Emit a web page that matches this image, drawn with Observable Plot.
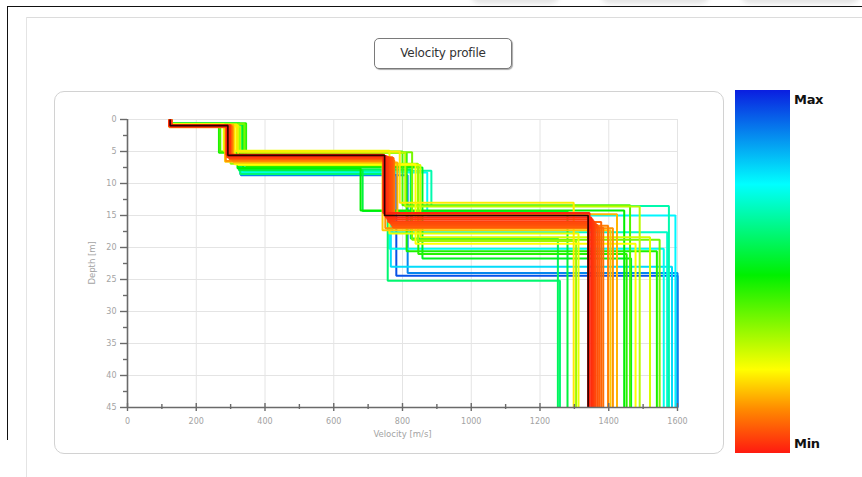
<!DOCTYPE html>
<html>
<head>
<meta charset="utf-8">
<script src="https://cdn.jsdelivr.net/npm/d3@7"></script>
<script src="https://cdn.jsdelivr.net/npm/@observablehq/plot@0.6"></script>
<style>
  body { margin: 0; background: #fff; font-family: "DejaVu Sans", sans-serif; }
  #page { position: relative; width: 862px; height: 477px; overflow: hidden; background: #fff; }
  .frame-top { position: absolute; left: 7px; top: 6px; width: 860px; height: 0; border-top: 1.5px solid #111; }
  .frame-left { position: absolute; left: 7px; top: 6px; width: 0; height: 434px; border-left: 1.5px solid #111; }
  .inner-top { position: absolute; left: 26px; top: 17px; width: 840px; height: 0; border-top: 1px solid #dcdcdc; }
  .inner-left { position: absolute; left: 26px; top: 17px; width: 0; height: 460px; border-left: 1px solid #e4e4e4; }
  .shade { position: absolute; top: -16px; height: 20px; background: #e6e6e6; border-radius: 14px; filter: blur(2px); }
  #title { position: absolute; left: 374px; top: 38px; width: 136px; height: 29px; border: 1.5px solid #7a7a7a;
           border-radius: 5px; box-shadow: 1px 1px 1px #aaa; font-size: 12px; color: #333; line-height: 29px;
           text-align: center; background: #fff; letter-spacing: -0.2px; }
  #panel { position: absolute; left: 54px; top: 91px; width: 668px; height: 361px; border: 1px solid #d2d2d2; border-radius: 10px; }
  #chart { position: absolute; left: 54px; top: 92px; }
  #bar { position: absolute; left: 735px; top: 90px; width: 55px; height: 363px; }
  .bar-label { position: absolute; left: 794px; font-weight: bold; font-size: 13px; color: #111; letter-spacing: -0.3px; }
</style>
</head>
<body>
<div id="page">
  <div class="shade" style="left:470px;width:90px"></div>
  <div class="shade" style="left:600px;width:110px"></div>
  <div class="shade" style="left:740px;width:120px"></div>
  <div class="frame-top"></div>
  <div class="frame-left"></div>
  <div class="inner-top"></div>
  <div class="inner-left"></div>
  <div id="title">Velocity profile</div>
  <div id="panel"></div>
  <div id="chart"></div>
  <div id="bar"></div>
  <div class="bar-label" style="top:92px">Max</div>
  <div class="bar-label" style="top:436px">Min</div>
</div>
<script>
// Layered velocity models: each profile is a 4-layer step model.
// misfit: 0 = best (min), 1 = worst (max); v = layer velocity [m/s], d = layer bottom depth [m]
const misfit = [0.00, 0.01, 0.02, 0.03, 0.04, 0.05, 0.06, 0.07, 0.08, 0.09,
                0.11, 0.13, 0.16, 0.18, 0.21, 0.23, 0.25, 0.27, 0.30, 0.33,
                0.37, 0.41, 0.45, 0.49, 0.52, 0.58, 0.55, 0.66, 0.69, 0.72,
                0.75, 0.78, 0.60, 0.88, 0.94, 0.46];
const v1 = [124, 122, 127, 125, 121, 128, 123, 126, 124, 129,
            125, 122, 127, 124, 126, 123, 128, 125, 121, 126,
            124, 127, 123, 125, 128, 124, 126, 122, 125, 127,
            124, 123, 126, 125, 124, 127];
const d1 = [0.95, 1.0, 1.05, 0.9, 1.1, 1.0, 0.95, 1.15, 1.0, 0.9,
            1.1, 1.2, 0.85, 1.0, 0.8, 1.0, 0.7, 0.9, 1.1, 0.8,
            0.7, 0.9, 0.6, 0.9, 0.7, 0.8, 0.7, 0.9, 0.6, 0.8,
            0.7, 0.9, 0.8, 0.8, 0.7, 0.8];
const v2 = [292, 288, 295, 298, 290, 296, 300, 293, 297, 302,
            305, 286, 308, 284, 318, 312, 280, 322, 328, 300,
            340, 270, 345, 320, 336, 330, 324, 338, 326, 331,
            334, 332, 328, 330, 329, 266];
const d2 = [5.6, 5.5, 5.7, 5.8, 5.9, 6.0, 6.1, 5.9, 6.2, 6.0,
            6.4, 6.5, 6.7, 6.6, 5.0, 7.0, 4.9, 7.1, 5.2, 6.9,
            5.1, 5.0, 7.3, 7.6, 7.5, 7.8, 7.9, 8.0, 8.1, 8.2,
            8.3, 8.4, 8.5, 8.7, 8.6, 5.2];
const v3 = [748, 744, 752, 756, 760, 764, 768, 771, 758, 774,
            776, 750, 785, 742, 792, 838, 762, 852, 808, 845,
            828, 800, 846, 678, 858, 824, 684, 884, 770, 762,
            872, 766, 757, 815, 782, 812];
const d3 = [15.0, 14.6, 15.3, 15.6, 15.9, 16.2, 16.5, 16.8, 16.0, 16.9,
            16.6, 17.0, 14.8, 17.3, 13.0, 19.4, 17.8, 18.4, 13.6, 19.0,
            18.8, 13.4, 21.0, 14.2, 21.7, 18.6, 14.3, 13.5, 17.6, 20.2,
            15.0, 23.0, 25.2, 24.0, 24.4, 20.6];
const v4 = [1340, 1344, 1349, 1353, 1357, 1362, 1367, 1372, 1378, 1384,
            1398, 1412, 1424, 1405, 1298, 1478, 1312, 1520, 1490, 1305,
            1548, 1462, 1452, 1445, 1465, 1252, 1280, 1575, 1570, 1560,
            1594, 1584, 1258, 1600, 1600, 1540];

const depthMax = 45;
const yMajor = [0, 5, 10, 15, 20, 25, 30, 35, 40, 45];
const yMinor = [2.5, 7.5, 12.5, 17.5, 22.5, 27.5, 32.5, 37.5, 42.5];
const xMajor = [0, 200, 400, 600, 800, 1000, 1200, 1400, 1600];
const xMinor = [100, 300, 500, 700, 900, 1100, 1300, 1500];

// Colour ramp from Min (red) to Max (blue)
const rampStops = [0, 0.12, 0.23, 0.49, 0.74, 1];
const rampColors = ["#ff1a10", "#ff8a00", "#ffff00", "#00f000", "#00ffff", "#0a1ee0"];

// Expand each model into its staircase outline
const rows = [];
misfit.forEach((t, i) => {
  const pts = [[v1[i], 0], [v1[i], d1[i]], [v2[i], d1[i]], [v2[i], d2[i]],
               [v3[i], d2[i]], [v3[i], d3[i]], [v4[i], d3[i]], [v4[i], depthMax]];
  pts.forEach(([v, d], k) => rows.push({id: i, t, v, d, k}));
});
// worst models first so the best ones end up on top
rows.sort((a, b) => (b.t - a.t) || (a.id - b.id) || (a.k - b.k));
const best = rows.filter(r => r.id === 0);

const chart = Plot.plot({
  width: 668,
  height: 360,
  marginLeft: 73,
  marginRight: 45,
  marginTop: 27,
  marginBottom: 45,
  style: {background: "transparent", fontFamily: "DejaVu Sans, sans-serif", overflow: "visible"},
  x: {domain: [0, 1600], axis: null},
  y: {domain: [0, depthMax], reverse: true, axis: null},
  color: {type: "linear", domain: rampStops, range: rampColors, interpolate: "rgb"},
  marks: [
    Plot.ruleX(xMajor, {stroke: "#e4e4e4", strokeWidth: 1}),
    Plot.ruleY(yMajor, {stroke: "#e4e4e4", strokeWidth: 1}),
    Plot.line(rows, {x: "v", y: "d", z: "id", stroke: "t", strokeWidth: 2,
                     strokeLinejoin: "miter", strokeLinecap: "butt"}),
    Plot.line(best, {x: "v", y: "d", stroke: "#2a0400", strokeWidth: 1.6,
                     strokeLinejoin: "miter", strokeLinecap: "butt"}),
    // axis lines
    Plot.ruleX([0], {stroke: "#6a6a6a", strokeWidth: 1.6}),
    Plot.ruleY([depthMax], {stroke: "#6a6a6a", strokeWidth: 1.6}),
    // y ticks (pointing left)
    Plot.ruleY(yMajor, {x1: 0, x2: 0, insetLeft: -7, stroke: "#6a6a6a", strokeWidth: 1.4}),
    Plot.ruleY(yMinor, {x1: 0, x2: 0, insetLeft: -4, stroke: "#6a6a6a", strokeWidth: 1.4}),
    // x ticks (crossing the axis)
    Plot.ruleX(xMajor, {y1: depthMax, y2: depthMax, insetTop: -4, insetBottom: -4, stroke: "#6a6a6a", strokeWidth: 1.4}),
    Plot.ruleX(xMinor, {y1: depthMax, y2: depthMax, insetTop: -3, insetBottom: -2, stroke: "#6a6a6a", strokeWidth: 1.4}),
    // tick labels
    Plot.text(yMajor, {x: 0, y: d => d, text: d => String(d), dx: -11, textAnchor: "end",
                       fill: "#a3a3a3", fontSize: 8}),
    Plot.text(xMajor, {x: d => d, y: depthMax, text: d => String(d), dy: 14,
                       fill: "#a3a3a3", fontSize: 8}),
    // axis titles
    Plot.text(["Velocity [m/s]"], {x: 800, y: depthMax, text: d => d, dy: 27, fill: "#a3a3a3", fontSize: 8.5}),
    Plot.text(["Depth [m]"], {x: 0, y: 22.4, text: d => d, dx: -35, rotate: -90, fill: "#a3a3a3", fontSize: 8.5})
  ]
});
document.getElementById("chart").appendChild(chart);

// colour bar built from the same ramp
const grad = rampStops.map((s, i) => `${rampColors[i]} ${s * 100}%`).join(", ");
document.getElementById("bar").style.background = `linear-gradient(to top, ${grad})`;
</script>
</body>
</html>
